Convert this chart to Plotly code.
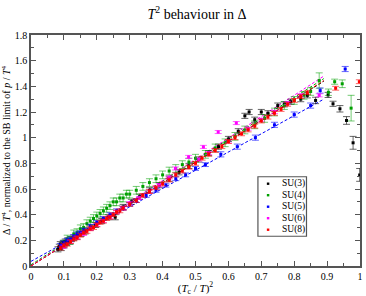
import plotly.graph_objects as go

# ---------------- data ----------------
x_su3 = [0.082, 0.086, 0.089, 0.092, 0.095, 0.098, 0.101, 0.104, 0.108, 0.112, 0.117, 0.123, 0.13, 0.14, 0.152,
         0.165, 0.18, 0.196, 0.215, 0.235, 0.256, 0.28, 0.305, 0.33, 0.36, 0.39, 0.42, 0.45, 0.48, 0.51, 0.54,
         0.57, 0.6, 0.63, 0.65, 0.663, 0.68, 0.7, 0.72, 0.75, 0.77, 0.79, 0.82, 0.84, 0.865, 0.903, 0.918,
         0.939, 0.959, 0.979, 0.999]
y_su3 = [0.13, 0.15, 0.17, 0.14, 0.16, 0.18, 0.17, 0.19, 0.18, 0.20, 0.19, 0.21, 0.22, 0.23, 0.25,
         0.27, 0.30, 0.32, 0.35, 0.38, 0.38, 0.46, 0.50, 0.54, 0.59, 0.63, 0.68, 0.73, 0.78, 0.83, 0.88,
         0.93, 0.99, 1.05, 1.17, 1.20, 1.14, 1.20, 1.19, 1.25, 1.26, 1.28, 1.30, 1.33, 1.29, 1.333, 1.264,
         1.225, 1.134, 0.96, 0.71]
e_su3 = [0.02, 0.02, 0.02, 0.02, 0.02, 0.02, 0.02, 0.02, 0.02, 0.02, 0.02, 0.02, 0.02, 0.02, 0.02,
         0.02, 0.02, 0.02, 0.02, 0.02, 0.02, 0.02, 0.02, 0.02, 0.02, 0.02, 0.02, 0.02, 0.02, 0.02, 0.02,
         0.02, 0.02, 0.02, 0.02, 0.02, 0.02, 0.02, 0.02, 0.02, 0.02, 0.02, 0.02, 0.02, 0.025, 0.02, 0.02,
         0.025, 0.03, 0.05, 0.05]

x_su4 = [0.10, 0.11, 0.12, 0.13, 0.14, 0.15, 0.16, 0.17, 0.18, 0.19, 0.20, 0.21, 0.22, 0.23, 0.24, 0.25, 0.26,
         0.27, 0.28, 0.29, 0.30, 0.32, 0.34, 0.36, 0.38, 0.40, 0.42, 0.44, 0.46, 0.48, 0.50, 0.53, 0.56, 0.59,
         0.62, 0.65, 0.68, 0.71, 0.74, 0.77, 0.80, 0.83, 0.85, 0.876, 0.904, 0.923, 0.946, 0.973]
y_su4 = [0.17, 0.21, 0.20, 0.25, 0.26, 0.29, 0.30, 0.33, 0.35, 0.37, 0.39, 0.41, 0.43, 0.45, 0.47, 0.50, 0.50,
         0.53, 0.53, 0.56, 0.56, 0.59, 0.62, 0.65, 0.68, 0.71, 0.74, 0.76, 0.79, 0.81, 0.84, 0.87, 0.92, 0.96,
         1.01, 1.06, 1.10, 1.15, 1.20, 1.25, 1.29, 1.33, 1.36, 1.445, 1.354, 1.436, 1.42, 1.23]
e_su4 = [0.03, 0.03, 0.03, 0.03, 0.03, 0.03, 0.03, 0.03, 0.03, 0.03, 0.03, 0.03, 0.03, 0.03, 0.03, 0.03, 0.03,
         0.03, 0.03, 0.03, 0.03, 0.03, 0.03, 0.03, 0.03, 0.03, 0.03, 0.03, 0.03, 0.03, 0.03, 0.03, 0.03, 0.03,
         0.03, 0.03, 0.03, 0.03, 0.03, 0.03, 0.03, 0.03, 0.03, 0.06, 0.025, 0.02, 0.03, 0.10]

x_su5 = [0.09, 0.10, 0.11, 0.12, 0.13, 0.14, 0.15, 0.16, 0.18, 0.20, 0.22, 0.24, 0.26, 0.28, 0.30, 0.32, 0.35,
         0.38, 0.41, 0.44, 0.47, 0.50, 0.53, 0.577, 0.627, 0.682, 0.74, 0.80, 0.85, 0.879, 0.955]
y_su5 = [0.16, 0.18, 0.20, 0.21, 0.23, 0.25, 0.26, 0.28, 0.31, 0.34, 0.37, 0.40, 0.43, 0.45, 0.48, 0.51, 0.55,
         0.59, 0.63, 0.68, 0.71, 0.76, 0.79, 0.87, 0.93, 1.00, 1.10, 1.18, 1.25, 1.367, 1.535]
e_su5 = [0.015] * 23 + [0.02, 0.02, 0.02, 0.02, 0.02, 0.02, 0.02, 0.02]

x_su6 = [0.10, 0.12, 0.14, 0.16, 0.18, 0.20, 0.22, 0.24, 0.26, 0.28, 0.30, 0.33, 0.36, 0.39, 0.42, 0.439,
         0.479, 0.51, 0.524, 0.54, 0.569, 0.60, 0.624, 0.66, 0.70, 0.74, 0.78, 0.82, 0.876]
y_su6 = [0.15, 0.19, 0.22, 0.25, 0.29, 0.32, 0.35, 0.38, 0.42, 0.45, 0.49, 0.53, 0.58, 0.63, 0.69, 0.76,
         0.85, 0.83, 0.928, 0.88, 1.044, 0.97, 1.114, 1.07, 1.14, 1.20, 1.27, 1.33, 1.33]
e_su6 = [0.012] * 29

x_su8 = [0.09, 0.10, 0.11, 0.12, 0.13, 0.14, 0.15, 0.16, 0.17, 0.18, 0.19, 0.20, 0.21, 0.22, 0.23, 0.24, 0.25,
         0.26, 0.27, 0.28, 0.30, 0.32, 0.34, 0.36, 0.38, 0.40, 0.42, 0.44, 0.46, 0.48, 0.50, 0.52, 0.54, 0.56,
         0.58, 0.60, 0.62, 0.64, 0.66, 0.68, 0.70, 0.72, 0.74, 0.76, 0.78, 0.80, 0.82, 0.84, 0.926, 0.998]
y_su8 = [0.14, 0.16, 0.17, 0.19, 0.21, 0.22, 0.24, 0.26, 0.27, 0.29, 0.30, 0.32, 0.34, 0.35, 0.37, 0.38, 0.40,
         0.42, 0.43, 0.45, 0.48, 0.51, 0.55, 0.58, 0.61, 0.64, 0.67, 0.71, 0.74, 0.77, 0.80, 0.84, 0.87, 0.90,
         0.93, 0.97, 1.00, 1.03, 1.06, 1.09, 1.13, 1.16, 1.19, 1.22, 1.26, 1.29, 1.32, 1.35, 1.385, 1.436]
e_su8 = [0.015] * 50

# dashed fit lines (start/end x, y at those x)
fit_x = [0.0, 0.89]
fit_su3 = [0.0, 1.44]
fit_su4 = [0.01, 1.46]
fit_su5 = [0.036, 1.30]
fit_su6 = [0.0, 1.48]
fit_su8 = [0.0, 1.445]

labels = ["SU(3)", "SU(4)", "SU(5)", "SU(6)", "SU(8)"]
colors = ["#000000", "#00a000", "#0000ff", "#ff00ff", "#ff0000"]
err_colors = ["rgba(0,0,0,0.6)", "rgba(0,160,0,0.55)", "rgba(0,0,255,0.6)",
              "rgba(255,0,255,0.6)", "rgba(255,0,0,0.6)"]

series = [(x_su3, y_su3, e_su3), (x_su4, y_su4, e_su4), (x_su5, y_su5, e_su5),
          (x_su6, y_su6, e_su6), (x_su8, y_su8, e_su8)]
fits = [fit_su3, fit_su4, fit_su5, fit_su6, fit_su8]

FONT = "Liberation Serif, Times New Roman, serif"

fig = go.Figure()

for f, c in zip(fits, colors):
    fig.add_trace(go.Scatter(x=fit_x, y=f, mode="lines",
                             line=dict(color=c, width=1, dash="3px,2px"),
                             showlegend=False, hoverinfo="skip"))

for (xs, ys, es), c, ec, lab in zip(series, colors, err_colors, labels):
    fig.add_trace(go.Scatter(
        x=xs, y=ys, mode="markers", name=lab,
        marker=dict(symbol="square", size=3, color=c),
        error_y=dict(type="data", array=es, visible=True, color=ec, thickness=1, width=3.5),
        showlegend=False))

# manual compact legend (matches the original's tight spacing)
L, R, T, B = 31, 363, 35, 268
def px_x(p): return (p - L) / (R - L)
def px_y(p): return (B - p) / (B - T)

fig.add_shape(type="rect", xref="paper", yref="paper",
              x0=px_x(260), x1=px_x(309), y0=px_y(238), y1=px_y(178),
              line=dict(color="#555555", width=1.2), fillcolor="white", layer="above")
for i, (lab, c) in enumerate(zip(labels, colors)):
    cy = 185 + i * 11.6
    fig.add_shape(type="rect", xref="paper", yref="paper",
                  x0=px_x(269), x1=px_x(271.5), y0=px_y(cy + 1.2), y1=px_y(cy - 1.2),
                  line=dict(width=0), fillcolor=c, layer="above")
    fig.add_annotation(xref="paper", yref="paper", x=px_x(282), y=px_y(cy),
                       xanchor="left", yanchor="middle", text=lab, showarrow=False,
                       font=dict(family=FONT, size=9.5, color="black"))

axis_common = dict(showline=True, linecolor="#555555", linewidth=1.5, mirror="ticks",
                   ticks="inside", ticklen=5, tickwidth=1, tickcolor="#555555",
                   showgrid=False, zeroline=False,
                   tickfont=dict(family=FONT, size=10, color="black"))

fig.update_xaxes(range=[0, 1], dtick=0.1, tick0=0, tickformat="~g",
                 minor=dict(ticks="inside", ticklen=3, dtick=0.05, tickcolor="#555555", showgrid=False),
                 title=dict(text="(<i>T</i><sub>c</sub> / <i>T</i>)<sup>2</sup>",
                            font=dict(family=FONT, size=11, color="black"), standoff=4),
                 **axis_common)
fig.update_yaxes(range=[0, 1.8], dtick=0.2, tick0=0, tickformat="~g",
                 minor=dict(ticks="inside", ticklen=3, dtick=0.1, tickcolor="#555555", showgrid=False),
                 title=dict(text="Δ / <i>T</i><sup>4</sup>, normalized to the SB limit of <i>p</i> / <i>T</i><sup>4</sup>",
                            font=dict(family=FONT, size=10, color="black"), standoff=2),
                 **axis_common)

fig.update_layout(
    width=366, height=296,
    margin=dict(l=31, r=3, t=35, b=28),
    paper_bgcolor="white", plot_bgcolor="white",
    title=dict(text="<i>T</i><sup>2</sup> behaviour in Δ", x=197 / 366,
               xanchor="center", y=1 - 14 / 296, yanchor="middle",
               font=dict(family=FONT, size=14, color="black")),
    showlegend=False,
)

fig.write_html("out.html", config={"displayModeBar": False},
               post_script="document.body.style.margin='0px';document.body.style.overflow='hidden';")
